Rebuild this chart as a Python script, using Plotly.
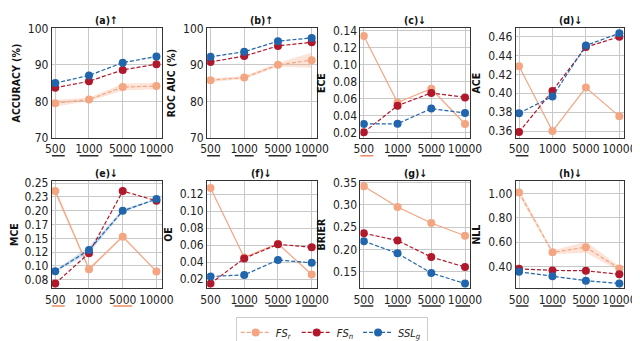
import plotly.graph_objects as go
from plotly.subplots import make_subplots

SIZES = ["500", "1000", "5000", "10000"]

# (a) accuracy
acc_fsr = [79.5, 80.5, 83.9, 84.2]
acc_fsr_sd = [0.9, 0.5, 0.9, 0.9]
acc_fsn = [83.7, 85.5, 88.6, 90.2]
acc_ssl = [85.0, 87.1, 90.6, 92.3]
# (b) roc auc
auc_fsr = [85.8, 86.5, 90.0, 91.3]
auc_fsr_sd = [0.5, 0.4, 0.5, 2.1]
auc_fsn = [90.8, 92.4, 95.2, 96.2]
auc_ssl = [92.2, 93.6, 96.5, 97.4]
# (c) ECE
ece_fsr = [0.134, 0.0555, 0.0718, 0.0302]
ece_fsn = [0.0204, 0.0519, 0.0669, 0.0616]
ece_ssl = [0.0302, 0.0305, 0.0484, 0.0431]
# (d) ACE
ace_fsr = [0.4285, 0.360, 0.406, 0.3756]
ace_fsn = [0.359, 0.4024, 0.4488, 0.4597]
ace_ssl = [0.379, 0.3966, 0.4505, 0.4634]
# (e) MCE
mce_fsr = [0.2356, 0.094, 0.153, 0.090]
mce_fsr_sd = [0.006, 0.003, 0.002, 0.001]
mce_fsn = [0.068, 0.123, 0.2356, 0.218]
mce_ssl = [0.0905, 0.1287, 0.1997, 0.221]
mce_ssl_sd = [0.002, 0.006, 0.003, 0.001]
mce_tickvals = [0.075, 0.1, 0.125, 0.15, 0.175, 0.2, 0.225, 0.25]
mce_ticktext = ["0.08", "0.10", "0.12", "0.15", "0.17", "0.20", "0.23", "0.25"]
# (f) OE
oe_fsr = [0.1275, 0.0455, 0.0617, 0.0253]
oe_fsn = [0.0147, 0.0444, 0.061, 0.0576]
oe_ssl = [0.023, 0.0249, 0.0425, 0.0391]
# (g) Brier
brier_fsr = [0.3414, 0.295, 0.2593, 0.2307]
brier_fsn = [0.2364, 0.220, 0.183, 0.1607]
brier_ssl = [0.2186, 0.1914, 0.1471, 0.1236]
# (h) NLL
nll_fsr = [1.008, 0.517, 0.559, 0.384]
nll_fsr_sd = [0.025, 0.015, 0.045, 0.02]
nll_fsn = [0.382, 0.369, 0.366, 0.337]
nll_ssl = [0.358, 0.322, 0.285, 0.262]

# significance underlines below the size labels: k = dark, r = salmon
ul_a = ["k", "k", "k", "k"]
ul_b = ["k", "k", "k", "k"]
ul_c = ["r", "k", "k", "k"]
ul_d = ["k", "", "", ""]
ul_e = ["r", "", "r", ""]
ul_f = ["", "k", "k", "k"]
ul_g = ["k", "k", "k", "k"]
ul_h = ["k", "k", "k", "k"]

C_FSR = "#f4a582"
C_FSN = "#b2182b"
C_SSL = "#2166ac"
UL_COL = {"k": "#2b2b2b", "r": "#ef8a62"}
DASH = "4px,2px"

panels = [
    dict(t="(a)", arrow="↑", ylab="ACCURACY (%)", fsr=acc_fsr, fsr_sd=acc_fsr_sd, fsn=acc_fsn, ssl=acc_ssl,
         ul=ul_a, yr=[70, 100], dtick=10, fmt="d", dash=DASH),
    dict(t="(b)", arrow="↑", ylab="ROC AUC (%)", fsr=auc_fsr, fsr_sd=auc_fsr_sd, fsn=auc_fsn, ssl=auc_ssl,
         ul=ul_b, yr=[70, 100], dtick=10, fmt="d", dash=DASH),
    dict(t="(c)", arrow="↓", ylab="ECE", fsr=ece_fsr, fsn=ece_fsn, ssl=ece_ssl,
         ul=ul_c, yr=[0.014, 0.143], dtick=0.02, fmt=".2f", dash="solid"),
    dict(t="(d)", arrow="↓", ylab="ACE", fsr=ace_fsr, fsn=ace_fsn, ssl=ace_ssl,
         ul=ul_d, yr=[0.353, 0.4685], dtick=0.02, fmt=".2f", dash="solid"),
    dict(t="(e)", arrow="↓", ylab="MCE", fsr=mce_fsr, fsr_sd=mce_fsr_sd, fsn=mce_fsn, ssl=mce_ssl,
         ssl_sd=mce_ssl_sd, ul=ul_e, yr=[0.0594, 0.254], fmt=".2f", dash="solid",
         tv=mce_tickvals, tt=mce_ticktext),
    dict(t="(f)", arrow="↓", ylab="OE", fsr=oe_fsr, fsn=oe_fsn, ssl=oe_ssl,
         ul=ul_f, yr=[0.0091, 0.1358], dtick=0.02, fmt=".2f", dash="solid"),
    dict(t="(g)", arrow="↓", ylab="BRIER", fsr=brier_fsr, fsn=brier_fsn, ssl=brier_ssl,
         ul=ul_g, yr=[0.113, 0.3536], dtick=0.05, fmt=".2f", dash="solid"),
    dict(t="(h)", arrow="↓", ylab="NLL", fsr=nll_fsr, fsr_sd=nll_fsr_sd, fsn=nll_fsn, ssl=nll_ssl,
         ul=ul_h, yr=[0.2226, 1.102], dtick=0.2, fmt=".2f", dash=DASH),
]

# subplot boxes in pixels of the 640x341 canvas
W, H = 640, 341
col_px = [(38, 151), (198, 311), (356, 469), (516, 628)]
row_px = [(14, 128), (173, 285)]

fig = make_subplots(rows=2, cols=4)
xs = list(range(len(SIZES)))


def band(x, m, sd, color, n):
    up = [a + b for a, b in zip(m, sd)]
    lo = [a - b for a, b in zip(m, sd)]
    fig.add_trace(go.Scatter(x=x + x[::-1], y=up + lo[::-1], mode="lines", fill="toself",
                             fillcolor=color, line=dict(width=0), hoverinfo="skip", showlegend=False),
                  row=n // 4 + 1, col=n % 4 + 1)


for n, p in enumerate(panels):
    r, c = n // 4 + 1, n % 4 + 1
    if "fsr_sd" in p:
        band(xs, p["fsr"], p["fsr_sd"], "rgba(244,165,130,0.3)", n)
    if "ssl_sd" in p:
        band(xs, p["ssl"], p["ssl_sd"], "rgba(33,102,172,0.2)", n)
    series = [
        ("<i>FS<sub>r</sub></i>", p["fsr"], C_FSR, p["dash"]),
        ("<i>FS<sub>n</sub></i>", p["fsn"], C_FSN, DASH),
        ("<i>SSL<sub>g</sub></i>", p["ssl"], C_SSL, DASH),
    ]
    for name, ys, col, dash in series:
        fig.add_trace(go.Scatter(x=xs, y=ys, mode="lines+markers", name=name,
                                 line=dict(color=col, width=1.2, dash=dash),
                                 marker=dict(color=col, size=8),
                                 showlegend=(n == 0), legendgroup=name),
                      row=r, col=c)

    ax = "" if n == 0 else str(n + 1)
    x0, x1 = col_px[c - 1]
    y0, y1 = row_px[r - 1]
    fig.layout["xaxis" + ax].update(domain=[x0 / W, x1 / W])
    fig.layout["yaxis" + ax].update(domain=[1 - y1 / H, 1 - y0 / H])

    yopts = dict(range=p["yr"], title=dict(text="<b>%s</b>" % p["ylab"], standoff=5,
                                            font=dict(size=10.5, color="#111")))
    if "tv" in p:
        yopts.update(tickmode="array", tickvals=p["tv"], ticktext=p["tt"])
    else:
        yopts.update(dtick=p["dtick"], tickformat=p["fmt"])
    fig.update_yaxes(row=r, col=c, **yopts)
    fig.update_xaxes(row=r, col=c, range=[-0.1, 3.15], tickmode="array", tickvals=xs, ticktext=SIZES)

    fig.add_annotation(xref="x%s domain" % ax, yref="y%s domain" % ax, x=0.5, y=1.0,
                       yanchor="bottom", showarrow=False,
                       text="<b>%s%s</b>" % (p["t"], p["arrow"]), font=dict(size=10.5, color="#111"))

    for j, code in enumerate(p["ul"]):
        if code:
            fig.add_shape(type="line", xref="x" + ax, yref="y%s domain" % ax,
                          x0=j - 0.28, x1=j + 0.28, y0=-0.165, y1=-0.165,
                          line=dict(color=UL_COL[code], width=1.5))

fig.update_xaxes(showgrid=True, gridcolor="#c8c8c8", gridwidth=1, showline=True, mirror=True,
                 linecolor="#333", linewidth=1, ticks="", zeroline=False,
                 tickfont=dict(size=12, color="#222"))
fig.update_yaxes(showgrid=True, gridcolor="#c8c8c8", gridwidth=1, showline=True, mirror=True,
                 linecolor="#333", linewidth=1, ticks="", zeroline=False,
                 tickfont=dict(size=12, color="#222"))

fig.update_layout(
    width=W, height=H,
    margin=dict(l=0, r=0, t=0, b=0),
    paper_bgcolor="white",
    plot_bgcolor="white",
    font=dict(family="DejaVu Sans Condensed, DejaVu Sans, sans-serif", color="#222"),
    legend=dict(orientation="h", x=0.51, y=1 - 331 / H, xanchor="center", yanchor="middle",
                bordercolor="#cccccc", borderwidth=1, font=dict(size=11), itemwidth=30,
                tracegroupgap=0),
)

fig.write_html("out.html")
